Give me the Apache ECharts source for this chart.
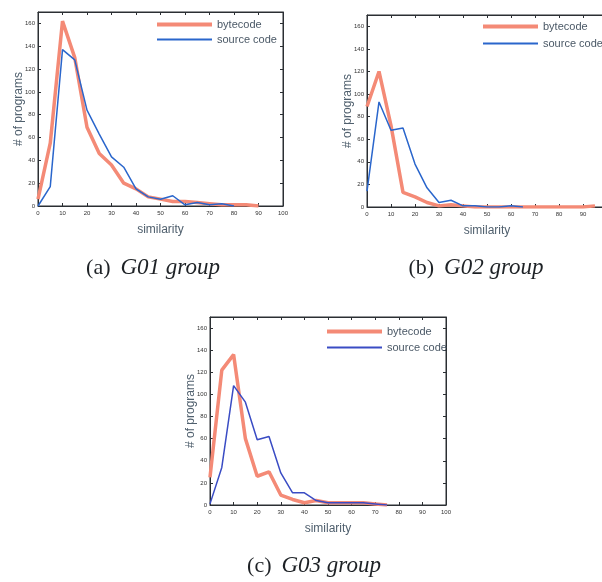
<!DOCTYPE html>
<html>
<head>
<meta charset="utf-8">
<script src="https://cdn.jsdelivr.net/npm/echarts@6/dist/echarts.min.js"></script>
<style>
  html, body { margin: 0; padding: 0; background: #fff; }
  #chart { width: 602px; height: 582px; }
</style>
</head>
<body>
<div id="chart"></div>
<script>
// similarity buckets (x values)
var similarity = [0, 5, 10, 15, 20, 25, 30, 35, 40, 45, 50, 55, 60, 65, 70, 75, 80, 85, 90, 95];

// (a) G01 group
var g01Bytecode = [6, 55, 162, 130, 69, 46, 36, 20, 15, 8, 6, 4, 4, 3, 2, 1, 1, 1, 0];
var g01Source   = [0, 17, 137, 128, 84, 63, 43, 34, 15, 8, 6, 9, 1, 3, 1, 2, 0];

// (b) G02 group
var g02Bytecode = [89, 120, 72, 13, 9, 4, 1, 2, 1, 0, 0, 0, 0, 0, 0, 0, 0, 0, 0, 1];
var g02Source   = [14, 93, 68, 70, 38, 17, 4, 6, 1, 1, 0, 0, 1, 0];

// (c) G03 group
var g03Bytecode = [25, 122, 136, 60, 26, 30, 9, 5, 2, 4, 2, 2, 2, 2, 1, 0];
var g03Source   = [1, 34, 108, 93, 59, 62, 29, 11, 11, 4, 2, 2, 2, 2, 1, 0];

var yTicks = [0, 20, 40, 60, 80, 100, 120, 140, 160];

function pairs(vals) {
  return vals.map(function (v, i) { return [similarity[i], v]; });
}

var RED = '#f48a76';
var BLUE = '#2a66cc';
var BLUE_C = '#3a4cc4';
var FRAME = '#2b2f33';
var FONT = 'Liberation Sans, Arial';

var panels = [
  { grid: { left: 38, top: 12, width: 245, height: 194 }, bytecode: g01Bytecode, source: g01Source, blue: BLUE,
    legend: { left: 157, top1: 21, top2: 35 } },
  { grid: { left: 367, top: 15, width: 240, height: 192 }, bytecode: g02Bytecode, source: g02Source, blue: BLUE,
    legend: { left: 483, top1: 23, top2: 39 } },
  { grid: { left: 210, top: 317, width: 236, height: 188 }, bytecode: g03Bytecode, source: g03Source, blue: BLUE_C,
    legend: { left: 327, top1: 328, top2: 343 } }
];

var option = {
  backgroundColor: '#fff',
  animation: false,
  grid: [], xAxis: [], yAxis: [], series: [], legend: [],
  graphic: []
};

panels.forEach(function (p, gi) {
  option.grid.push({
    left: p.grid.left, top: p.grid.top, width: p.grid.width, height: p.grid.height,
    outerBoundsMode: 'none', containLabel: false,
    show: true, borderColor: FRAME, borderWidth: 1, backgroundColor: '#fff'
  });
  var lineStyle = { color: FRAME, width: 1 };
  // bottom
  option.xAxis.push({
    type: 'value', gridIndex: gi, min: 0, max: 100, interval: 10,
    name: 'similarity', nameLocation: 'middle', nameGap: 18, nameMoveOverlap: false,
    nameTextStyle: { fontFamily: FONT, fontSize: 12, color: '#50606e' },
    axisLine: { onZero: false, lineStyle: lineStyle },
    axisTick: { inside: true, length: 3, lineStyle: lineStyle },
    axisLabel: { fontSize: 6, color: '#333', margin: 4, fontFamily: FONT },
    splitLine: { show: false }
  });
  // top mirror
  option.xAxis.push({
    type: 'value', gridIndex: gi, position: 'top', min: 0, max: 100, interval: 10,
    axisLine: { onZero: false, lineStyle: lineStyle },
    axisTick: { inside: true, length: 3, lineStyle: lineStyle },
    axisLabel: { show: false }, splitLine: { show: false }
  });
  // left
  option.yAxis.push({
    type: 'value', gridIndex: gi, min: 0, max: 170, interval: 20,
    name: '# of programs', nameLocation: 'middle', nameGap: 13, nameMoveOverlap: false,
    nameTextStyle: { fontFamily: FONT, fontSize: 12, color: '#50606e' },
    axisLine: { onZero: false, lineStyle: lineStyle },
    axisTick: { inside: true, length: 3, lineStyle: lineStyle },
    axisLabel: {
      fontSize: 6, color: '#333', margin: 3, fontFamily: FONT,
      showMaxLabel: false,
      formatter: function (v) { return yTicks.indexOf(v) >= 0 ? String(v) : ''; }
    },
    splitLine: { show: false }
  });
  // right mirror
  option.yAxis.push({
    type: 'value', gridIndex: gi, position: 'right', min: 0, max: 170, interval: 20,
    axisLine: { onZero: false, lineStyle: lineStyle },
    axisTick: { inside: true, length: 3, lineStyle: lineStyle },
    axisLabel: { show: false }, splitLine: { show: false }
  });

  option.series.push({
    name: 'bytecode', type: 'line', xAxisIndex: gi * 2, yAxisIndex: gi * 2,
    data: pairs(p.bytecode), symbol: 'none', smooth: false,
    lineStyle: { color: RED, width: 3.5 }, itemStyle: { color: RED }, z: 3
  });
  option.series.push({
    name: 'source code', type: 'line', xAxisIndex: gi * 2, yAxisIndex: gi * 2,
    data: pairs(p.source), symbol: 'none', smooth: false,
    lineStyle: { color: p.blue, width: 1.5 }, itemStyle: { color: p.blue }, z: 4
  });

  // one legend per entry so each swatch can have its own thickness
  option.legend.push({
    left: p.legend.left, top: p.legend.top1 - 2, padding: 0,
    icon: 'rect', itemWidth: 55, itemHeight: 4,
    data: ['bytecode'], selectedMode: false,
    itemStyle: { color: RED },
    textStyle: { fontFamily: FONT, fontSize: 11, color: '#4a5866' }
  });
  option.legend.push({
    left: p.legend.left, top: p.legend.top2 - 1, padding: 0,
    icon: 'rect', itemWidth: 55, itemHeight: 2,
    data: ['source code'], selectedMode: false,
    itemStyle: { color: p.blue },
    textStyle: { fontFamily: FONT, fontSize: 11, color: '#4a5866' }
  });
});

var captions = [
  { x: 153, y: 268, label: '(a)', group: 'G01 group' },
  { x: 476, y: 268, label: '(b)', group: 'G02 group' },
  { x: 314, y: 566, label: '(c)', group: 'G03 group' }
];
captions.forEach(function (c) {
  option.graphic.push({
    type: 'text', x: c.x, y: c.y,
    style: {
      text: '{n|' + c.label + '}   {i|' + c.group + '}',
      align: 'center', verticalAlign: 'middle',
      rich: {
        n: { fontFamily: 'Liberation Serif, Times New Roman', fontSize: 22, fill: '#1e2226' },
        i: { fontFamily: 'Liberation Serif, Times New Roman', fontSize: 23, fontStyle: 'italic', fill: '#1e2226' }
      }
    }
  });
});

var chart = echarts.init(document.getElementById('chart'), null, { renderer: 'canvas' });
chart.setOption(option);
</script>
</body>
</html>
